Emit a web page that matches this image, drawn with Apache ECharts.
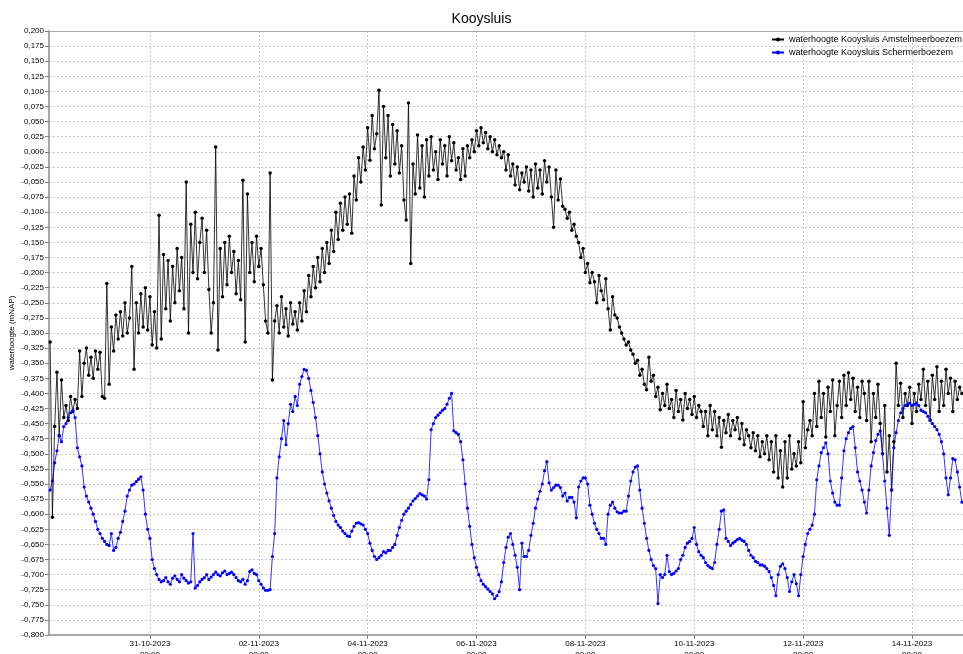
<!DOCTYPE html>
<html>
<head>
<meta charset="utf-8">
<script src="https://cdn.jsdelivr.net/npm/echarts@6/dist/echarts.min.js"></script>
<style>
html,body{margin:0;padding:0;background:#fff;}
#chart{width:963px;height:654px;}
</style>
</head>
<body>
<div id="chart"></div>
<script>
// ---- data ----
const titleText = 'Kooysluis';
const yAxisName = 'waterhoogte (mNAP)';
const seriesNames = ['waterhoogte Kooysluis Amstelmeerboezem', 'waterhoogte Kooysluis Schermerboezem'];
const startTime = Date.UTC(2023, 9, 29, 4, 0);      // first sample
const axisStart = Date.UTC(2023, 9, 29, 3, 30);
const axisEnd = Date.UTC(2023, 10, 14, 22, 30);
const stepHours = 1;
const tickTimes = [
  Date.UTC(2023, 9, 31), Date.UTC(2023, 10, 2), Date.UTC(2023, 10, 4), Date.UTC(2023, 10, 6),
  Date.UTC(2023, 10, 8), Date.UTC(2023, 10, 10), Date.UTC(2023, 10, 12), Date.UTC(2023, 10, 14)
];
const amstelValues = [
-0.315,-0.605,-0.455,-0.365,-0.470,-0.378,
-0.440,-0.420,-0.445,-0.405,-0.430,-0.410,
-0.425,-0.330,-0.405,-0.350,-0.325,-0.370,
-0.340,-0.375,-0.330,-0.360,-0.332,-0.405,
-0.408,-0.218,-0.385,-0.290,-0.330,-0.270,
-0.310,-0.265,-0.305,-0.250,-0.300,-0.275,
-0.190,-0.360,-0.250,-0.300,-0.235,-0.290,
-0.225,-0.295,-0.240,-0.320,-0.265,-0.325,
-0.105,-0.310,-0.170,-0.260,-0.180,-0.280,
-0.190,-0.250,-0.160,-0.230,-0.175,-0.260,
-0.050,-0.300,-0.120,-0.200,-0.100,-0.210,
-0.150,-0.110,-0.200,-0.130,-0.228,-0.300,
-0.250,0.008,-0.328,-0.160,-0.240,-0.150,
-0.220,-0.140,-0.200,-0.165,-0.235,-0.180,
-0.245,-0.047,-0.315,-0.070,-0.200,-0.150,
-0.215,-0.140,-0.190,-0.160,-0.220,-0.280,
-0.300,-0.035,-0.378,-0.280,-0.255,-0.300,
-0.240,-0.290,-0.260,-0.305,-0.250,-0.285,
-0.265,-0.295,-0.250,-0.280,-0.230,-0.265,
-0.205,-0.240,-0.190,-0.225,-0.175,-0.215,
-0.160,-0.200,-0.150,-0.185,-0.130,-0.165,
-0.100,-0.145,-0.085,-0.130,-0.075,-0.120,
-0.070,-0.135,-0.040,-0.080,-0.010,-0.050,
0.008,-0.030,0.040,-0.014,0.060,0.005,
0.030,0.102,-0.088,0.075,-0.010,0.060,
-0.040,0.045,-0.020,0.035,-0.035,0.010,
-0.080,-0.113,0.081,-0.185,-0.020,-0.070,
0.028,-0.060,0.010,-0.075,0.020,-0.040,
0.025,-0.030,0.000,-0.046,0.020,-0.020,
0.010,-0.040,0.025,-0.015,0.015,-0.030,
-0.010,-0.046,0.005,-0.040,0.010,-0.010,
0.020,0.000,0.035,0.010,0.040,0.015,
0.032,0.005,0.025,0.000,0.020,-0.005,
0.010,-0.010,0.000,-0.030,-0.005,-0.040,
-0.020,-0.055,-0.025,-0.063,-0.035,-0.050,
-0.025,-0.065,-0.030,-0.075,-0.020,-0.060,
-0.030,-0.070,-0.015,-0.050,-0.025,-0.075,
-0.125,-0.030,-0.080,-0.045,-0.090,-0.095,
-0.110,-0.100,-0.130,-0.120,-0.140,-0.150,
-0.175,-0.160,-0.200,-0.185,-0.217,-0.200,
-0.215,-0.250,-0.205,-0.230,-0.245,-0.210,
-0.260,-0.295,-0.240,-0.270,-0.275,-0.290,
-0.300,-0.310,-0.320,-0.315,-0.328,-0.335,
-0.350,-0.345,-0.370,-0.360,-0.385,-0.394,
-0.340,-0.380,-0.370,-0.405,-0.390,-0.427,
-0.400,-0.420,-0.385,-0.425,-0.410,-0.440,
-0.395,-0.430,-0.410,-0.444,-0.400,-0.425,
-0.410,-0.435,-0.405,-0.440,-0.420,-0.430,
-0.455,-0.430,-0.470,-0.420,-0.460,-0.430,
-0.470,-0.440,-0.489,-0.445,-0.465,-0.435,
-0.470,-0.445,-0.460,-0.440,-0.475,-0.450,
-0.485,-0.460,-0.470,-0.490,-0.465,-0.495,
-0.470,-0.505,-0.480,-0.500,-0.470,-0.510,
-0.480,-0.530,-0.470,-0.540,-0.495,-0.555,
-0.480,-0.540,-0.470,-0.525,-0.500,-0.520,
-0.480,-0.515,-0.414,-0.490,-0.460,-0.445,
-0.470,-0.400,-0.455,-0.380,-0.440,-0.400,
-0.472,-0.390,-0.430,-0.378,-0.470,-0.420,
-0.380,-0.440,-0.370,-0.420,-0.366,-0.410,
-0.375,-0.430,-0.390,-0.440,-0.380,-0.400,
-0.445,-0.380,-0.480,-0.400,-0.440,-0.385,
-0.450,-0.500,-0.420,-0.530,-0.470,-0.560,
-0.480,-0.350,-0.420,-0.383,-0.440,-0.400,
-0.420,-0.390,-0.450,-0.400,-0.430,-0.385,
-0.410,-0.360,-0.420,-0.380,-0.444,-0.370,
-0.410,-0.356,-0.430,-0.380,-0.420,-0.360,
-0.400,-0.375,-0.430,-0.380,-0.410,-0.390,
-0.400
];
const schermerValues = [
-0.560,-0.545,-0.515,-0.495,-0.470,-0.480,-0.455,-0.450,-0.440,-0.432,
-0.428,-0.440,-0.490,-0.505,-0.520,-0.555,-0.570,-0.580,-0.590,-0.600,
-0.612,-0.625,-0.632,-0.640,-0.645,-0.650,-0.652,-0.632,-0.660,-0.655,
-0.640,-0.630,-0.612,-0.595,-0.570,-0.560,-0.552,-0.550,-0.546,-0.542,
-0.538,-0.560,-0.600,-0.625,-0.640,-0.675,-0.690,-0.700,-0.708,-0.712,
-0.710,-0.705,-0.712,-0.716,-0.706,-0.702,-0.708,-0.712,-0.700,-0.706,
-0.710,-0.714,-0.712,-0.632,-0.722,-0.718,-0.712,-0.708,-0.705,-0.700,
-0.708,-0.704,-0.700,-0.696,-0.700,-0.702,-0.697,-0.694,-0.700,-0.698,
-0.696,-0.700,-0.705,-0.710,-0.712,-0.708,-0.716,-0.710,-0.695,-0.692,
-0.698,-0.700,-0.710,-0.716,-0.722,-0.726,-0.726,-0.725,-0.670,-0.632,
-0.540,-0.505,-0.475,-0.445,-0.485,-0.450,-0.418,-0.430,-0.405,-0.420,
-0.385,-0.372,-0.360,-0.362,-0.375,-0.395,-0.415,-0.440,-0.470,-0.500,
-0.530,-0.550,-0.565,-0.578,-0.590,-0.602,-0.612,-0.618,-0.622,-0.628,
-0.632,-0.636,-0.637,-0.628,-0.620,-0.615,-0.614,-0.616,-0.618,-0.625,
-0.632,-0.648,-0.660,-0.670,-0.675,-0.672,-0.668,-0.662,-0.664,-0.660,
-0.660,-0.655,-0.650,-0.635,-0.622,-0.610,-0.600,-0.595,-0.590,-0.584,
-0.578,-0.574,-0.570,-0.566,-0.568,-0.570,-0.575,-0.543,-0.460,-0.450,
-0.440,-0.436,-0.432,-0.428,-0.425,-0.418,-0.408,-0.400,-0.462,-0.465,
-0.468,-0.480,-0.510,-0.550,-0.590,-0.620,-0.650,-0.672,-0.688,-0.700,
-0.710,-0.716,-0.720,-0.724,-0.728,-0.732,-0.740,-0.735,-0.728,-0.712,
-0.680,-0.655,-0.638,-0.632,-0.650,-0.668,-0.688,-0.725,-0.648,-0.670,
-0.670,-0.660,-0.635,-0.615,-0.590,-0.575,-0.562,-0.550,-0.528,-0.513,
-0.548,-0.560,-0.556,-0.552,-0.552,-0.556,-0.570,-0.565,-0.578,-0.572,
-0.572,-0.580,-0.606,-0.555,-0.545,-0.540,-0.540,-0.550,-0.585,-0.600,
-0.615,-0.625,-0.632,-0.640,-0.640,-0.650,-0.600,-0.585,-0.580,-0.590,
-0.596,-0.598,-0.598,-0.595,-0.595,-0.570,-0.545,-0.530,-0.522,-0.520,
-0.560,-0.590,-0.615,-0.640,-0.660,-0.675,-0.685,-0.690,-0.748,-0.700,
-0.705,-0.700,-0.668,-0.695,-0.700,-0.698,-0.694,-0.690,-0.675,-0.668,
-0.655,-0.648,-0.645,-0.640,-0.622,-0.650,-0.662,-0.668,-0.672,-0.680,
-0.685,-0.688,-0.690,-0.680,-0.650,-0.625,-0.595,-0.593,-0.640,-0.645,
-0.652,-0.648,-0.645,-0.642,-0.640,-0.643,-0.645,-0.650,-0.660,-0.668,
-0.672,-0.678,-0.680,-0.684,-0.684,-0.686,-0.690,-0.695,-0.705,-0.718,
-0.735,-0.700,-0.686,-0.682,-0.690,-0.705,-0.728,-0.712,-0.700,-0.715,
-0.735,-0.700,-0.670,-0.650,-0.632,-0.625,-0.618,-0.600,-0.543,-0.520,
-0.498,-0.490,-0.482,-0.500,-0.545,-0.565,-0.580,-0.585,-0.585,-0.540,
-0.495,-0.475,-0.465,-0.458,-0.455,-0.490,-0.530,-0.545,-0.560,-0.580,
-0.598,-0.560,-0.520,-0.498,-0.478,-0.468,-0.462,-0.500,-0.545,-0.590,
-0.635,-0.560,-0.490,-0.465,-0.445,-0.432,-0.425,-0.420,-0.418,-0.416,
-0.420,-0.418,-0.416,-0.420,-0.428,-0.430,-0.432,-0.438,-0.445,-0.450,
-0.455,-0.460,-0.468,-0.480,-0.500,-0.540,-0.568,-0.540,-0.508,-0.510,
-0.530,-0.555,-0.580
];

// ---- build ----
function toPairs(values) {
  return values.map((v, i) => [startTime + i * stepHours * 3600000, v]);
}
function pad(n) { return (n < 10 ? '0' : '') + n; }
const FONT = 'Liberation Sans';

const chart = echarts.init(document.getElementById('chart'), null, {renderer: 'canvas'});
chart.setOption({
  animation: false,
  backgroundColor: '#fff',
  textStyle: {fontFamily: FONT},
  title: {
    text: titleText, left: 'center', top: 7,
    textStyle: {fontFamily: FONT, fontSize: 14, fontWeight: 'normal', color: '#000'}
  },
  legend: {
    orient: 'vertical', left: 771, top: 35, padding: 0,
    itemWidth: 12, itemHeight: 5, itemGap: 4,
    textStyle: {fontFamily: FONT, fontSize: 9, color: '#000'},
    data: seriesNames
  },
  grid: {left: 49, right: 0, top: 31, bottom: 19, containLabel: false, outerBoundsMode: 'none'},
  xAxis: [{
    type: 'value', min: axisStart, max: axisEnd,
    axisLine: {show: true, onZero: false, lineStyle: {color: '#a8a8a8', width: 2}},
    axisTick: {show: true, customValues: tickTimes, length: 4, lineStyle: {color: '#808080'}},
    axisLabel: {
      customValues: tickTimes, fontFamily: FONT, fontSize: 8, color: '#000', lineHeight: 11, margin: 3,
      formatter: function (v) {
        const d = new Date(v);
        return pad(d.getUTCDate()) + '-' + pad(d.getUTCMonth() + 1) + '-' + d.getUTCFullYear() + '\n' +
          pad(d.getUTCHours()) + ':' + pad(d.getUTCMinutes());
      }
    },
    splitLine: {show: true, lineStyle: {color: '#c8c8c8', type: [2, 2], width: 1}}
  }, {
    type: 'value', position: 'top', min: 0, max: 1,
    axisLine: {show: true, onZero: false, lineStyle: {color: '#a8a8a8', width: 1}},
    axisTick: {show: false}, axisLabel: {show: false}, splitLine: {show: false}
  }],
  yAxis: {
    type: 'value', min: -0.8, max: 0.2, interval: 0.025,
    name: yAxisName, nameLocation: 'middle', nameGap: 33, nameMoveOverlap: false,
    nameTextStyle: {fontFamily: FONT, fontSize: 8, color: '#000'},
    axisLine: {show: true, onZero: false, lineStyle: {color: '#a8a8a8', width: 2}},
    axisTick: {show: true, length: 4, lineStyle: {color: '#808080'}},
    axisLabel: {
      fontFamily: FONT, fontSize: 8, color: '#000', margin: 5,
      formatter: function (v) { return v.toFixed(3).replace('.', ','); }
    },
    splitLine: {show: true, lineStyle: {color: '#c8c8c8', type: [2, 2], width: 1}}
  },
  series: [{
    name: seriesNames[0], type: 'line', xAxisIndex: 0,
    data: toPairs(amstelValues),
    symbol: 'circle', symbolSize: 3.5, showSymbol: true,
    lineStyle: {color: '#000', width: 0.8},
    itemStyle: {color: '#000'}
  }, {
    name: seriesNames[1], type: 'line', xAxisIndex: 0,
    data: toPairs(schermerValues),
    symbol: 'circle', symbolSize: 3.2, showSymbol: true,
    lineStyle: {color: '#0000ff', width: 0.8},
    itemStyle: {color: '#0000ff'}
  }]
});
</script>
</body>
</html>
